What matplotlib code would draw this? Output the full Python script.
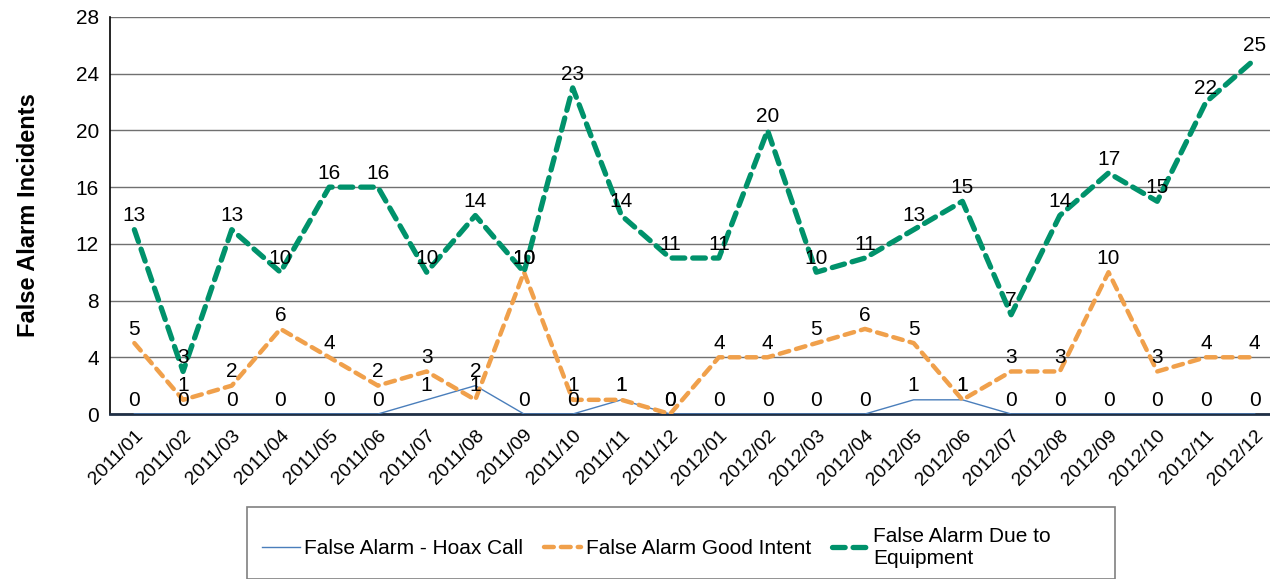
import matplotlib
matplotlib.use("Agg")
import matplotlib.pyplot as plt
from matplotlib.patches import Rectangle

plt.rcParams["font.family"] = ["Liberation Sans", "DejaVu Sans"]

months = ["2011/01", "2011/02", "2011/03", "2011/04", "2011/05", "2011/06",
          "2011/07", "2011/08", "2011/09", "2011/10", "2011/11", "2011/12",
          "2012/01", "2012/02", "2012/03", "2012/04", "2012/05", "2012/06",
          "2012/07", "2012/08", "2012/09", "2012/10", "2012/11", "2012/12"]
hoax = [0, 0, 0, 0, 0, 0, 1, 2, 0, 0, 1, 0, 0, 0, 0, 0, 1, 1, 0, 0, 0, 0, 0, 0]
good_intent = [5, 1, 2, 6, 4, 2, 3, 1, 10, 1, 1, 0, 4, 4, 5, 6, 5, 1, 3, 3, 10, 3, 4, 4]
equipment = [13, 3, 13, 10, 16, 16, 10, 14, 10, 23, 14, 11, 11, 20, 10, 11, 13, 15, 7, 14,
             17, 15, 22, 25]
yticks = [0, 4, 8, 12, 16, 20, 24, 28]

W, H = 1270, 579
fig = plt.figure(figsize=(W / 100, H / 100), dpi=100)
ax = fig.add_axes([110 / W, 1 - 414 / H, (1279 - 110) / W, (414 - 17) / H])

x = range(len(months))
ax.plot(x, hoax, color="#4A7EBB", lw=1.0, zorder=3, label="False Alarm - Hoax Call")
ax.plot(x, good_intent, color="#F0A04B", lw=3.2, linestyle=(0, (2.2, 1.6)),
        dash_capstyle="round", zorder=4, label="False Alarm Good Intent")
ax.plot(x, equipment, color="#00926B", lw=3.8, linestyle=(0, (2.4, 1.5)),
        dash_capstyle="round", zorder=5, label="False Alarm Due to\nEquipment")

# data labels above each point
for series in (hoax, good_intent, equipment):
    for i, v in enumerate(series):
        ax.annotate(str(v), (i, v), xytext=(0, 10), textcoords="offset points",
                    ha="center", va="center", fontsize=15, zorder=6)

ax.set_xlim(-0.5, len(months) - 0.5)
ax.set_ylim(0, 28)
ax.set_yticks(yticks)
ax.set_xticks(list(x))
ax.set_xticklabels(months, rotation=45, ha="right", va="top", rotation_mode="anchor",
                   fontsize=14)
ax.tick_params(axis="y", labelsize=15, length=0, pad=8)
ax.tick_params(axis="x", length=0, pad=9)
ax.yaxis.grid(True, color="#707070", lw=1.0)
ax.set_axisbelow(True)
for side in ("top", "right"):
    ax.spines[side].set_visible(False)
ax.spines["left"].set_linewidth(1.2)
ax.spines["bottom"].set_linewidth(2.0)
ax.spines["bottom"].set_color("#1F2F45")

ax.set_ylabel("False Alarm Incidents", fontsize=17, fontweight="bold", labelpad=26)

# legend box
fig.patches.append(Rectangle((247 / W, 0), (1115 - 247) / W, (H - 507) / H,
                             transform=fig.transFigure, fill=False,
                             edgecolor="#808080", lw=1.2))
fig.legend(loc="center left", bbox_to_anchor=(252 / W, 1 - 547 / H), ncol=3,
           frameon=False, fontsize=15, handlelength=1.8, handletextpad=0.2,
           columnspacing=1.0, borderpad=0)

fig.savefig("out.png", dpi=100)
